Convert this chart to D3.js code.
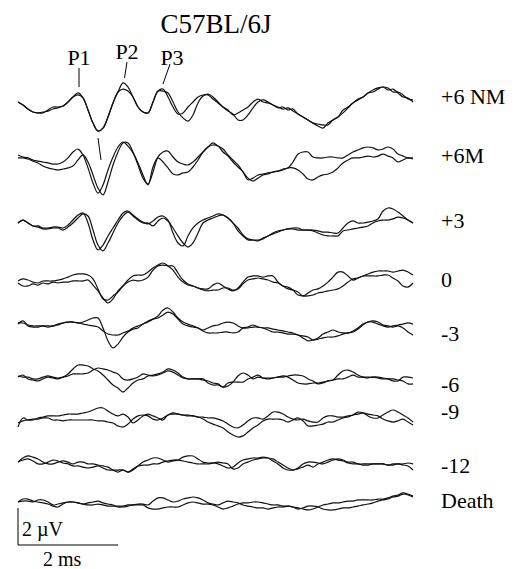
<!DOCTYPE html>
<html lang="en">
<head>
<meta charset="UTF-8">
<script src="https://d3js.org/d3.v7.min.js"></script>
<style>
  body { margin: 0; background: #fff; }
  text { font-family: "Liberation Serif", "Times New Roman", serif; fill: #000; }
  .trace { fill: none; stroke: #111; stroke-width: 1.2; stroke-linejoin: round; }
  .mark { stroke: #000; stroke-width: 1; fill: none; }
</style>
</head>
<body>
<svg width="523" height="569"></svg>
<script>
// ABR traces, two recordings per condition, in µV, one sample every 0.1 ms
var title = "C57BL/6J";
var rowLabels = ["+6 NM", "+6M", "+3", "0", "-3", "-6", "-9", "-12", "Death"];
var stepMs = 0.1;

var nm6A = [0,-.16,-.38,-.54,-.59,-.59,-.43,-.27,-.27,-.22, 0,.27,.49,.22,-.43,-1.14,-1.57,-1.41,-.81,-.05, .54,1.03,.81,.27,-.27,-.54,-.59,0,.59,.7, .27,-.27,-.65,-.59,-.27,0,.27,.38,.38,.16, -.05,-.27,-.43,-.7,-.59,-.43,-.27,0,.16,0, -.05,-.16,-.27,-.38,-.32,-.49,-.65,-.81,-.97,-1.14, -1.3,-1.41,-1.14,-.97,-.81,-.59,-.32,-.05,.16,.27, .49,.54,.7,.81,.65,.7,.49,.27,.22,0];
var nm6B = [0,-.16,-.38,-.54,-.59,-.54,-.49,-.38,-.32,-.22, 0,.27,.38,.22,-.43,-1.14,-1.57,-1.41,-.81,-.05, .54,.7,.59,.27,-.27,-.54,-.59,0,.59,.59, .49,0,-.54,-.86,-1.03,-.7,-.05,.32,.43,.27, 0,-.27,-.49,-.65,-.97,-.97,-.7,-.32,0,.11, 0,-.16,-.32,-.27,-.43,-.38,-.65,-.81,-.97,-1.14, -1.19,-1.24,-1.24,-.97,-.81,-.43,-.27,-.05,.11,.27, .49,.65,.76,.81,.76,.54,.54,.38,.16,.11];

var m6A = [.11,0,-.05,-.16,-.22,-.27,-.32,-.38,-.38,-.27, -.05,.27,.43,.11,-.59,-1.41,-1.95,-1.51,-.7,0, .54,.81,.59,.22,-.43,-1.14,-1.46,-.81,0,.27, .32,0,-.27,-.38,-.43,-.27,0,.27,.54,.65, .59,.27,.05,-.27,-.54,-.81,-1.24,-1.14,-.97,-.92, -.86,-.81,-.76,-.65,-.59,-.27,.16,.27,.27,0, -.05,-.05,0,0,-.05,-.05,.11,.27,.38,.49, .54,.49,.38,.43,.54,.43,.16,.05,-.05,-.05];
var m6B = [-.05,-.05,-.11,-.22,-.32,-.49,-.59,-.65,-.7,-.65, -.59,-.49,-.16,.11,-.27,-.97,-1.68,-2.05,-1.35,-.43, .27,.76,.76,.27,-.32,-.97,-1.51,-.54,-.05,-.27, -.59,-.92,-.97,-.86,-.81,-.54,-.16,.27,.54,.76, .59,.43,.11,-.16,-.43,-.81,-1.14,-1.3,-1.14,-.97, -.92,-.81,-.76,-.7,-.59,-.59,-.7,-.92,-1.19,-1.24, -1.08,-.97,-.92,-.81,-.59,-.32,-.16,-.05,-.05,0, .05,0,.05,.16,.05,-.05,-.27,-.16,-.05,-.11];

var p3A = [0,.16,0,-.16,-.16,-.27,-.27,-.22,-.22,-.27, -.11,.16,.43,.54,0,-.92,-1.46,-1.19,-.7,-.27, .16,.54,.65,.43,.22,.05,-.05,.11,.32,.38, .16,-.54,-1.08,-1.24,-.7,-.27,0,.16,.27,.38, .49,.43,.27,0,-.43,-.7,-.92,-.92,-.97,-.81, -.7,-.54,-.43,-.38,-.32,-.27,-.27,-.38,-.38,-.38, -.43,-.49,-.49,-.54,-.54,-.27,0,.11,0,0, .05,.11,.22,.65,.81,.76,.59,.38,.16,0];
var p3B = [0,.16,0,-.16,-.22,-.32,-.32,-.27,-.27,-.38, -.22,0,.27,.49,.38,-.38,-1.19,-1.51,-1.08,-.54, 0,.38,.59,.38,.16,0,0,-.16,.11,.27, .11,-.27,-.7,-1.08,-1.3,-1.08,-.54,0,.16,.27, .38,.43,.27,0,-.27,-.65,-.86,-.92,-.92,-.86, -.7,-.59,-.49,-.38,-.32,-.32,-.38,-.38,-.38,-.43, -.54,-.65,-.7,-.7,-.7,-.43,-.38,-.32,-.27,-.22, -.16,0,.11,.16,.16,.22,.32,.27,.16,0];

var z0A = [.11,.22,.16,.05,0,.11,.11,.11,.16,.22, .32,.43,.49,.49,.43,.22,-.32,-.86,-.92,-.7, -.49,-.16,.16,.38,.43,.43,.59,.81,.97,1.08, .92,.7,.32,.05,-.11,-.16,-.27,-.32,-.32,-.11, 0,-.16,-.32,-.43,-.27,.05,.32,.38,.38,.32, .38,.38,.05,-.16,-.32,-.38,-.49,-.7,-.54,-.38, -.32,-.16,.05,.32,.59,.59,.38,.16,.27,.38, .49,.59,.65,.65,.65,.59,.65,.7,.59,.43];
var z0B = [0,-.16,-.16,-.05,-.11,0,-.05,.05,0,.05, .05,.11,.11,.11,.16,-.11,-.43,-.81,-1.08,-.86, -.43,-.16,.05,.16,.11,.16,.32,.7,.92,.97, .92,.92,.54,.16,-.05,-.16,-.27,-.38,-.43,-.38, -.38,-.27,-.27,-.38,-.32,-.05,.16,.22,.27,.22, .16,.05,0,-.16,-.22,-.38,-.65,-.7,-.7,-.65, -.54,-.49,-.43,-.38,-.32,-.16,.05,.22,.27,.38, .38,.38,.38,.43,.43,.27,.11,-.16,-.22,0];

var n3A = [.05,.22,-.05,-.11,-.11,-.05,-.05,-.05,.05,.11, .16,.16,.11,.16,.27,.38,.38,-.16,-.86,-1.24, -1.03,-.65,-.38,-.22,-.16,.05,.16,.32,.49,.81, .92,.7,.38,.16,.05,-.05,-.16,-.32,-.43,-.43, -.43,-.38,-.38,-.43,-.38,-.16,-.11,0,-.11,-.16, -.27,-.38,-.38,-.43,-.49,-.49,-.54,-.7,-.86,-.81, -.7,-.49,-.38,-.27,-.38,-.43,-.43,-.32,-.16,.05, .16,.22,.16,0,-.05,-.11,-.05,-.16,-.38,-.54];
var n3B = [.11,.11,0,-.05,-.05,-.05,-.11,-.05,0,.11, .16,.16,.11,.05,0,-.05,-.11,-.32,-.49,-.54, -.54,-.43,-.32,-.16,-.05,.05,.22,.32,.38,.54, .7,.59,.32,.05,-.05,-.11,-.16,-.27,-.16,-.05, 0,.11,.16,.11,-.05,-.16,-.16,-.11,-.11,-.16, -.16,-.22,-.27,-.32,-.38,-.43,-.54,-.59,-.65,-.81, -.76,-.7,-.65,-.65,-.59,-.49,-.43,-.38,-.22,0, .16,.16,.05,-.05,-.11,-.05,0,.05,.11,.05];

var n6A = [.05,.16,-.05,-.11,-.16,-.05,.05,0,-.05,.05, .22,.49,.7,.7,.65,.49,.38,.16,-.11,-.38, -.54,-.76,-.54,-.27,-.11,-.05,.11,.16,.22,.32, .49,.43,.27,.05,-.05,-.05,-.05,-.05,-.27,-.38, -.38,-.49,-.43,-.22,.11,.27,.16,-.05,.05,0, -.05,0,.05,.11,.05,-.11,-.27,-.32,-.32,-.27, -.27,-.22,-.16,-.11,.16,.38,.43,.32,.16,.05, 0,.05,.05,0,-.05,-.16,-.16,.05,.05,0];
var n6B = [.11,.05,.05,-.05,-.05,.05,.11,.05,0,.05, .11,.22,.22,.22,.27,.43,.54,.49,.43,.32, .22,-.05,-.11,-.05,.05,.22,.16,.11,.16,.27, .38,.32,.16,0,-.05,-.05,-.05,-.11,-.16,-.27, -.32,-.49,-.27,-.22,-.22,-.22,-.05,.05,.16,0, 0,0,.05,.05,.11,.16,.16,.11,-.05,-.16, -.32,-.27,-.16,-.11,-.05,-.05,.05,.16,.05,.05, .05,.05,0,-.05,-.05,-.05,-.11,-.16,-.32,-.32];

var n9A = [-.38,.11,0,0,.11,.16,.22,.22,.22,.27, .32,.32,.32,.38,.43,.54,.65,.65,.49,.32, .22,.32,.16,-.16,0,.22,.32,.22,.11,0, .27,.32,.32,.27,.22,.22,.16,.16,.11,.11, .05,-.05,-.22,-.38,-.43,-.27,-.05,.11,.11,.05, .22,.43,.43,.32,.16,.05,0,.05,-.05,-.11, -.11,.11,.22,.22,.16,.16,.22,.27,.43,.38, .22,.11,.11,.27,.43,.54,.43,.27,.11,-.11];
var n9B = [-.16,-.05,0,.05,.05,.11,.11,0,0,-.05, 0,0,0,0,0,0,-.05,-.05,-.11,-.16, -.32,-.38,-.22,.05,.22,.27,.22,.05,0,.11, .27,.38,.32,.27,.27,.22,.16,.05,-.11,-.22, -.32,-.43,-.65,-.81,-.92,-.86,-.65,-.43,-.27,-.05, .05,.05,.05,0,-.11,0,.11,-.05,-.32,-.32, -.27,-.22,-.11,-.11,0,.11,.16,.27,.32,.38, .32,.27,.22,.05,-.05,-.11,-.05,.05,-.11,-.27];

var n12A = [.05,.27,.38,.32,.22,.05,-.05,-.05,.05,.11, .05,-.05,.05,.05,-.05,-.05,-.11,-.16,-.22,-.38, -.49,-.38,-.49,-.38,-.16,.05,.16,.27,.27,.16, .05,.11,.16,.32,.38,.38,.22,.05,0,0, -.05,-.16,-.27,-.22,0,.16,.22,.27,.27,.32, .27,.11,-.05,-.27,-.38,-.38,-.27,-.05,.05,.05, 0,-.05,.05,.16,.22,.16,.05,.05,-.05,-.05, -.05,-.05,-.05,-.05,-.11,-.11,-.05,-.11,-.16,-.38];
var n12B = [.05,.16,.22,.11,-.05,-.05,.05,.16,.11,0, -.05,-.16,-.16,-.22,-.27,-.22,-.16,-.27,-.38,-.38, -.38,-.38,-.49,-.32,-.16,-.11,-.11,-.05,-.05,.05, .11,.16,.16,.11,.05,0,-.05,-.05,-.05,0, .05,0,-.05,-.32,-.27,-.05,.05,.16,.22,.27, .27,.22,.05,-.11,-.27,-.38,-.32,-.22,-.11,-.22, -.05,.05,.16,.22,.16,.11,0,-.05,-.05,-.11, -.11,-.05,-.05,-.05,-.11,-.05,-.05,-.05,0,-.05];

var deathA = [0,.16,.16,.05,0,-.05,-.11,-.22,-.27,-.11, 0,0,-.05,-.11,-.05,0,.05,-.05,-.11,-.16, -.27,-.27,-.22,-.16,-.11,-.11,-.16,.05,.22,.22, .11,0,.05,.16,.22,.27,.22,.11,-.05,-.11, -.16,-.05,.05,0,-.05,-.16,-.22,-.27,-.32,-.32, -.38,-.32,-.27,-.27,-.22,-.27,-.32,-.38,-.43,-.38, -.27,-.16,-.11,-.05,-.05,0,.05,.05,.11,.11, .11,.11,.16,.16,.22,.32,.38,.49,.43,.32];
var deathB = [0,.05,.05,0,.11,.11,0,-.16,-.11,-.05, 0,0,-.05,-.11,-.16,-.16,-.11,-.16,-.22,-.22, -.22,-.22,-.16,-.16,-.16,-.16,-.32,-.38,-.38,-.32, -.27,-.27,-.27,-.16,-.05,0,-.05,-.11,-.11,-.16, -.27,-.38,-.32,-.22,-.11,-.05,-.05,0,0,-.05, -.11,-.16,-.16,-.22,-.22,-.27,-.38,-.32,-.22,-.22, -.27,-.38,-.43,-.43,-.38,-.32,-.32,-.27,-.22,-.16, -.11,-.05,.05,.11,.16,.27,.32,.43,.38,.27];

var traces = [
  [nm6A, nm6B], [m6A, m6B], [p3A, p3B], [z0A, z0B], [n3A, n3B],
  [n6A, n6B], [n9A, n9B], [n12A, n12B], [deathA, deathB]
];

// wave annotations: latency of marker foot and of label (ms)
var peakNames = ["P1", "P2", "P3"];
var peakMs = [1.22, 2.13, 2.9];
var peakLabelMs = [1.22, 2.18, 3.04];

// layout
var rowY = [102, 157, 223, 283, 325, 378, 420, 463, 502];
var labelY = [96, 155, 220, 279, 333, 384, 411, 465, 500];

var svg = d3.select("svg");

var x = d3.scaleLinear().domain([0, 7.9]).range([18, 413]);
var y = d3.scaleLinear().domain([0, 1]).range([0, -18.5]);

var line = d3.line()
    .x(function(d, i) { return x(i * stepMs); })
    .y(function(d) { return y(d); })
    .curve(d3.curveCatmullRom);

var rows = svg.selectAll("g.row")
    .data(traces)
    .enter()
    .append("g")
    .attr("class", "row")
    .attr("transform", function(d, i) { return "translate(0," + rowY[i] + ")"; });

rows.selectAll("path")
    .data(function(d) { return d; })
    .enter()
    .append("path")
    .attr("class", "trace")
    .attr("d", line);

svg.selectAll("text.rowlabel")
    .data(rowLabels)
    .enter()
    .append("text")
    .attr("class", "rowlabel")
    .attr("x", 441)
    .attr("y", function(d, i) { return labelY[i]; })
    .attr("dy", "0.35em")
    .style("font-size", "22px")
    .text(function(d) { return d; });

// title
svg.append("text")
    .attr("x", 216)
    .attr("y", 33)
    .attr("text-anchor", "middle")
    .style("font-size", "27px")
    .text(title);

// peak labels and markers
var labelBase = [65, 59, 65];
var markTop = [68, 62, 64];
var markBottom = [87, 78, 84];
peakNames.forEach(function(p, i) {
    svg.append("text")
        .attr("x", x(peakLabelMs[i]) + (i === 2 ? 2 : 0))
        .attr("y", labelBase[i])
        .attr("text-anchor", "middle")
        .style("font-size", "22px")
        .text(p);
    svg.append("line")
        .attr("class", "mark")
        .attr("x1", x(peakLabelMs[i]))
        .attr("y1", markTop[i])
        .attr("x2", x(peakMs[i]))
        .attr("y2", markBottom[i]);
});

// marker under P1 trough in +6M row
svg.append("line")
    .attr("class", "mark")
    .attr("x1", x(1.6)).attr("y1", 138)
    .attr("x2", x(1.66)).attr("y2", 160);

// scale bar: 2 µV, 2 ms
var barY = 545;
svg.append("path")
    .attr("class", "mark")
    .attr("d", "M" + x(0) + "," + (barY + y(2)) + "V" + barY + "H" + x(2));
svg.append("text")
    .attr("x", 22).attr("y", 536)
    .style("font-size", "20px")
    .text("2 \u00b5V");
svg.append("text")
    .attr("x", 43).attr("y", 566)
    .style("font-size", "20px")
    .text("2 ms");
</script>
</body>
</html>
